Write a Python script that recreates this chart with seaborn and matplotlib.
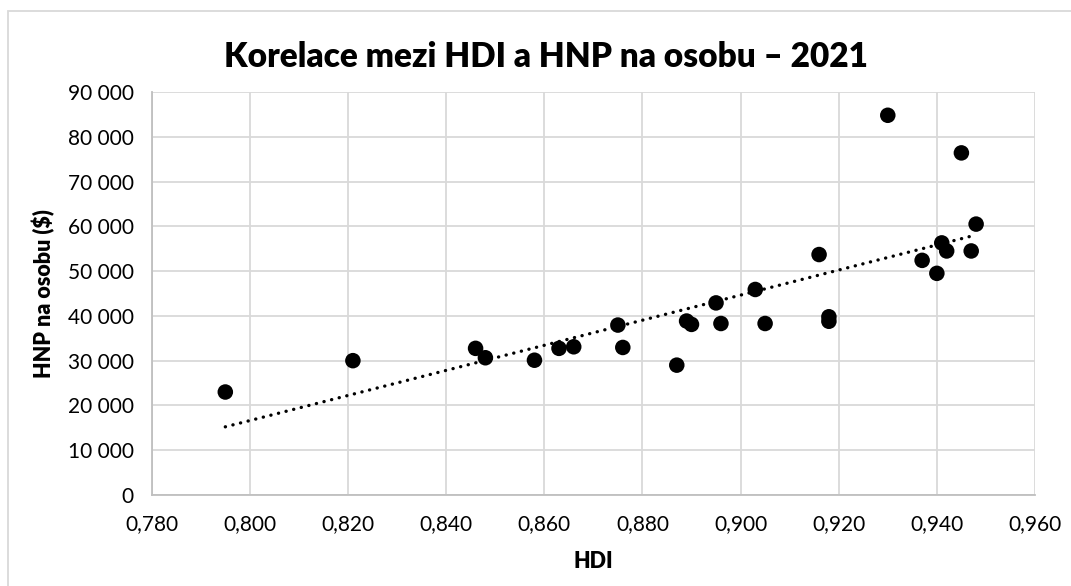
import numpy as np
import pandas as pd
import seaborn as sns
import matplotlib.pyplot as plt
from matplotlib.patches import Rectangle
from matplotlib.ticker import FuncFormatter, MultipleLocator

hdi = [0.795, 0.821, 0.846, 0.848, 0.858, 0.863, 0.866, 0.875, 0.876, 0.887,
       0.889, 0.890, 0.895, 0.896, 0.903, 0.905, 0.916, 0.918, 0.918, 0.930,
       0.937, 0.940, 0.941, 0.942, 0.945, 0.947, 0.948]
hnp = [23000, 30000, 32750, 30650, 30100, 32750, 33100, 37950, 32950, 29000,
       38850, 38100, 42900, 38300, 45900, 38300, 53700, 39800, 38800, 84800,
       52400, 49500, 56300, 54500, 76400, 54500, 60500]

df = pd.DataFrame({"HDI": hdi, "HNP": hnp})

sns.set_theme(style="white")
plt.rcParams["font.family"] = ["Lato", "DejaVu Sans"]

fig = plt.figure(figsize=(10.71, 5.86), dpi=100)
ax = fig.add_axes([151.7 / 1071, 1 - 495 / 586, (1035 - 151.7) / 1071, (495 - 92) / 586])

# trend line (linear fit) - round dots like excel
sns.regplot(data=df, x="HDI", y="HNP", ax=ax, scatter=False, ci=None, truncate=True,
            line_kws=dict(color="black", lw=2.4, linestyle=(0, (0.05, 2.3)),
                          dash_capstyle="round", zorder=2))
sns.scatterplot(data=df, x="HDI", y="HNP", ax=ax, color="black", s=125,
                edgecolor="none", zorder=3)

ax.set_xlim(0.78, 0.96)
ax.set_ylim(0, 90000)
ax.xaxis.set_major_locator(MultipleLocator(0.02))
ax.yaxis.set_major_locator(MultipleLocator(10000))
ax.xaxis.set_major_formatter(FuncFormatter(lambda v, p: f"{v:.3f}".replace(".", ",")))
ax.yaxis.set_major_formatter(FuncFormatter(lambda v, p: f"{v:,.0f}".replace(",", " ")))
ax.grid(True, color="#d9d9d9", lw=1.3)
ax.set_axisbelow(True)
for s in ["top", "right"]:
    ax.spines[s].set_visible(False)
for s in ["left", "bottom"]:
    ax.spines[s].set_color("#bfbfbf")
    ax.spines[s].set_linewidth(1.3)
ax.tick_params(axis="both", labelsize=15, colors="#000000", length=0)
ax.tick_params(axis="x", pad=14)
ax.tick_params(axis="y", pad=13)

ax.set_xlabel("HDI", fontsize=15.5, fontweight="heavy", labelpad=12, color="black")
ax.set_ylabel("HNP na osobu ($)", fontsize=15.5, fontweight="heavy", labelpad=9,
              color="black")

fig.text(546 / 1071, 1 - 57 / 586, "Korelace mezi HDI a HNP na osobu – 2021",
         ha="center", va="center", fontsize=24, fontweight="heavy", color="black")

fig.patches.append(Rectangle((8 / 1071, -0.05), 1.2, 1 - 11 / 586 + 0.05,
                             transform=fig.transFigure, fill=False,
                             edgecolor="#d9d9d9", lw=1.3))

fig.savefig("out.png", dpi=100)
